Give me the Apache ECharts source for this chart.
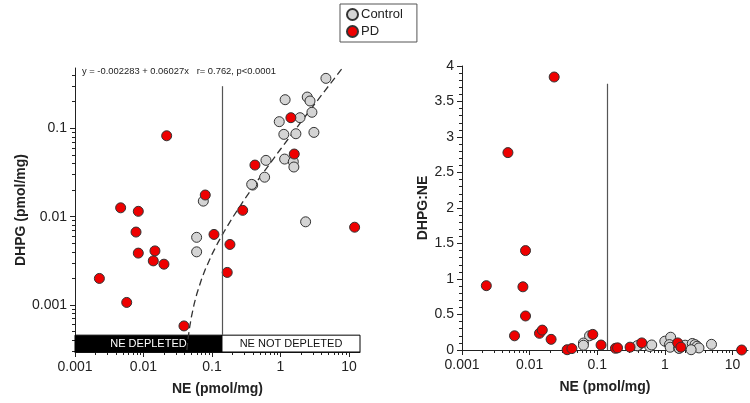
<!DOCTYPE html>
<html>
<head>
<meta charset="utf-8">
<script src="https://cdn.jsdelivr.net/npm/echarts@6/dist/echarts.min.js"></script>
<style>
html,body{margin:0;padding:0;background:#fff;}
#chart{width:750px;height:403px;}
</style>
</head>
<body>
<div id="chart"></div>
<script>
// ---- Left panel: DHPG vs NE (log-log) ----
const ctrlNE   = [0.0747, 0.0597, 0.0597, 0.393, 0.38, 0.587, 0.614, 0.96, 1.17, 1.12, 1.15, 1.54, 1.57, 1.68, 1.93, 2.46, 2.70, 2.88, 3.08, 4.61, 2.33];
const ctrlDHPG = [0.0150, 0.00584, 0.0040, 0.0228, 0.0232, 0.028, 0.0434, 0.119, 0.211, 0.0855, 0.0449, 0.0419, 0.0365, 0.0869, 0.132, 0.226, 0.204, 0.152, 0.090, 0.368, 0.00875];
const pdNE     = [0.00227, 0.00569, 0.00464, 0.0084, 0.00778, 0.0084, 0.0139, 0.0147, 0.0199, 0.0218, 0.039, 0.0798, 0.107, 0.167, 0.183, 0.281, 0.424, 1.42, 1.59, 12.1];
const pdDHPG   = [0.0020, 0.00107, 0.0126, 0.0115, 0.0067, 0.00387, 0.00316, 0.0041, 0.0029, 0.0824, 0.00058, 0.0176, 0.0063, 0.00234, 0.00485, 0.0118, 0.0384, 0.132, 0.0512, 0.0076];
// regression curve y = -0.002283 + 0.06027x
const fitNE    = [0.043, 0.0435, 0.045, 0.047, 0.05, 0.055, 0.06, 0.07, 0.08, 0.1, 0.12, 0.15, 0.2, 0.3, 0.5, 1, 2, 4, 7.8];
const fitDHPG  = [0.000309, 0.000339, 0.000429, 0.00055, 0.000731, 0.001032, 0.001333, 0.001936, 0.002539, 0.003744, 0.004949, 0.006758, 0.009771, 0.015798, 0.027852, 0.057987, 0.118257, 0.238797, 0.467823];

// ---- Right panel: DHPG:NE vs NE ----
const ctrlRatioNE = [0.077, 0.0625, 0.0625, 0.40, 0.39, 0.60, 0.64, 1.0, 1.22, 1.17, 1.2, 1.6, 1.63, 1.75, 2.0, 2.55, 2.8, 3.0, 3.2, 4.9, 2.45];
const ctrlRatio   = [0.20, 0.098, 0.067, 0.058, 0.06, 0.048, 0.071, 0.124, 0.18, 0.076, 0.039, 0.027, 0.023, 0.052, 0.068, 0.092, 0.076, 0.053, 0.029, 0.08, 0.004];
const pdRatioNE   = [0.00229, 0.00478, 0.00598, 0.00796, 0.0087, 0.0087, 0.014, 0.0154, 0.0208, 0.0231, 0.0359, 0.0422, 0.086, 0.114, 0.186, 0.2, 0.306, 0.456, 1.55, 1.73, 13.7];
const pdRatio     = [0.906, 2.78, 0.20, 0.89, 1.40, 0.479, 0.235, 0.28, 0.15, 3.845, 0.004, 0.02, 0.22, 0.07, 0.024, 0.03, 0.04, 0.10, 0.10, 0.04, 0.0];

// axis ticks / labels
const logTicksX = [0.001, 0.01, 0.1, 1, 10];
const logTicksY = [0.001, 0.01, 0.1];
const ratioTicks = [0, 0.5, 1, 1.5, 2, 2.5, 3, 3.5, 4];
const depletionThreshold = 0.14;
const boxLabels = ['NE DEPLETED', 'NE NOT DEPLETED'];
const fitText = 'y = -0.002283 + 0.06027x   r= 0.762, p<0.0001';

// axis ranges
const leftXMin = 0.001, leftXMax = 14.5;
const leftYMin = 0.000294, leftYMax = 0.482;
const boxTop = 0.000456;
const rightXMin = 0.001, rightXMax = 17;
const rightYMin = 0, rightYMax = 4;
const lineTopLeft = 0.3, lineTopRight = 3.75;

function minorLog(lo, hi) {
  const out = [];
  for (let e = -5; e <= 2; e++) {
    const d = Math.pow(10, e);
    for (let k = 2; k <= 9; k++) {
      const v = +(k * d).toPrecision(3);
      if (v > lo && v < hi) out.push(v);
    }
  }
  return out;
}
function minorLinear(lo, hi, step) {
  const out = [];
  for (let v = lo + step; v < hi - 1e-9; v += step) {
    const r = +v.toFixed(3);
    if (Math.abs(r * 2 - Math.round(r * 2)) > 1e-6) out.push(r);
  }
  return out;
}
const zip = (a, b) => a.map((v, i) => [v, b[i]]);

const FONT = 'Liberation Sans, Arial, sans-serif';
const axisColor = '#222';
const fmt = v => String(+Number(v).toPrecision(3));

function majorAxis(type, gridIndex, min, max, ticks, extra) {
  return Object.assign({
    type, gridIndex, min, max,
    axisLine: { show: true, lineStyle: { color: axisColor, width: 1 } },
    axisTick: { show: true, length: 5, inside: false, customValues: ticks, lineStyle: { color: axisColor, width: 1 } },
    axisLabel: { show: true, customValues: ticks, formatter: fmt, fontSize: 14, color: axisColor, fontFamily: FONT, margin: 8 },
    splitLine: { show: false },
    minorTick: { show: false },
    minorSplitLine: { show: false }
  }, extra || {});
}
function minorAxis(type, gridIndex, min, max, position, values) {
  return {
    type, gridIndex, min, max, position,
    axisLine: { show: true, lineStyle: { color: '#fff', opacity: 0, width: 0 } },
    axisTick: { show: true, length: 3, inside: false, customValues: values, lineStyle: { color: axisColor, width: 1 } },
    axisLabel: { show: false },
    splitLine: { show: false },
    minorTick: { show: false }
  };
}

const nameStyle = { fontSize: 14, fontWeight: 'bold', color: axisColor, fontFamily: FONT };

const option = {
  animation: false,
  backgroundColor: '#fff',
  textStyle: { fontFamily: FONT },
  legend: {
    data: ['Control', 'PD'],
    orient: 'vertical',
    left: 340, top: 4,
    icon: 'circle',
    itemWidth: 11, itemHeight: 11, itemGap: 4,
    padding: [4, 14, 4, 6],
    borderColor: '#555', borderWidth: 1,
    backgroundColor: '#fff',
    textStyle: { fontSize: 13, color: axisColor, fontFamily: FONT, padding: [0, 0, 0, -2] }
  },
  grid: [
    { left: 75, top: 68, width: 285, height: 284 },
    { left: 462, top: 66, width: 286, height: 284 }
  ],
  graphic: [
    { type: 'text', left: 82, top: 67, style: { text: fitText, fontSize: 9.4, fill: axisColor, fontFamily: FONT } }
  ],
  xAxis: [
    majorAxis('log', 0, leftXMin, leftXMax, logTicksX, { position: 'bottom', name: 'NE (pmol/mg)', nameLocation: 'middle', nameGap: 30, nameTextStyle: nameStyle }),
    minorAxis('log', 0, leftXMin, leftXMax, 'bottom', minorLog(leftXMin, leftXMax)),
    majorAxis('log', 1, rightXMin, rightXMax, logTicksX, { position: 'bottom', name: 'NE (pmol/mg)', nameLocation: 'middle', nameGap: 30, nameTextStyle: nameStyle }),
    minorAxis('log', 1, rightXMin, rightXMax, 'bottom', minorLog(rightXMin, rightXMax))
  ],
  yAxis: [
    majorAxis('log', 0, leftYMin, leftYMax, logTicksY, { position: 'left', name: 'DHPG (pmol/mg)', nameLocation: 'middle', nameGap: 46, nameRotate: 90, nameTextStyle: nameStyle }),
    minorAxis('log', 0, leftYMin, leftYMax, 'left', minorLog(leftYMin, leftYMax)),
    majorAxis('value', 1, rightYMin, rightYMax, ratioTicks, { position: 'left', name: 'DHPG:NE', nameLocation: 'middle', nameGap: 30, nameRotate: 90, nameTextStyle: nameStyle }),
    minorAxis('value', 1, rightYMin, rightYMax, 'left', minorLinear(rightYMin, rightYMax, 0.1))
  ],
  series: [
    {
      name: 'fit', type: 'line', xAxisIndex: 0, yAxisIndex: 0, data: zip(fitNE, fitDHPG),
      showSymbol: false, symbol: 'none', silent: true, z: 1,
      lineStyle: { color: '#333', width: 1.3, type: [7, 4] }
    },
    {
      name: 'Control', type: 'scatter', xAxisIndex: 0, yAxisIndex: 0, data: zip(ctrlNE, ctrlDHPG),
      symbolSize: 10, z: 2,
      itemStyle: { color: '#d4d4d4', borderColor: '#333', borderWidth: 1, opacity: 1 }
    },
    {
      name: 'PD', type: 'scatter', xAxisIndex: 0, yAxisIndex: 0, data: zip(pdNE, pdDHPG),
      symbolSize: 10, z: 2,
      itemStyle: { color: '#ee0000', borderColor: '#333', borderWidth: 1, opacity: 1 }
    },
    {
      name: 'boxes', type: 'line', xAxisIndex: 0, yAxisIndex: 0, data: [], z: 4, silent: true,
      markArea: {
        silent: true,
        data: [
          [
            { coord: [leftXMin, leftYMin], itemStyle: { color: '#000', borderColor: '#000', borderWidth: 1, opacity: 1 },
              label: { show: true, position: 'inside', formatter: boxLabels[0], color: '#fff', fontSize: 11, fontFamily: FONT } },
            { coord: [depletionThreshold, boxTop] }
          ],
          [
            { coord: [depletionThreshold, leftYMin], itemStyle: { color: '#fff', borderColor: '#000', borderWidth: 1, opacity: 1 },
              label: { show: true, position: 'inside', formatter: boxLabels[1], color: '#111', fontSize: 11, fontFamily: FONT } },
            { coord: [leftXMax, boxTop] }
          ]
        ]
      },
      markLine: {
        silent: true, symbol: 'none', label: { show: false },
        lineStyle: { color: '#555', width: 1.2, type: 'solid' },
        data: [[{ coord: [depletionThreshold, boxTop] }, { coord: [depletionThreshold, lineTopLeft] }]]
      }
    },
    {
      name: 'Control', type: 'scatter', xAxisIndex: 2, yAxisIndex: 2, data: zip(ctrlRatioNE, ctrlRatio),
      symbolSize: 10, z: 2,
      itemStyle: { color: '#d4d4d4', borderColor: '#333', borderWidth: 1, opacity: 1 }
    },
    {
      name: 'PD', type: 'scatter', xAxisIndex: 2, yAxisIndex: 2, data: zip(pdRatioNE, pdRatio),
      symbolSize: 10, z: 3,
      itemStyle: { color: '#ee0000', borderColor: '#333', borderWidth: 1, opacity: 1 }
    },
    {
      name: 'rightLine', type: 'line', xAxisIndex: 2, yAxisIndex: 2, data: [], z: 1, silent: true,
      markLine: {
        silent: true, symbol: 'none', label: { show: false },
        lineStyle: { color: '#555', width: 1.2, type: 'solid' },
        data: [[{ coord: [depletionThreshold, 0] }, { coord: [depletionThreshold, lineTopRight] }]]
      }
    }
  ]
};

const chart = echarts.init(document.getElementById('chart'), null, { renderer: 'canvas' });
chart.setOption(option);
</script>
</body>
</html>
